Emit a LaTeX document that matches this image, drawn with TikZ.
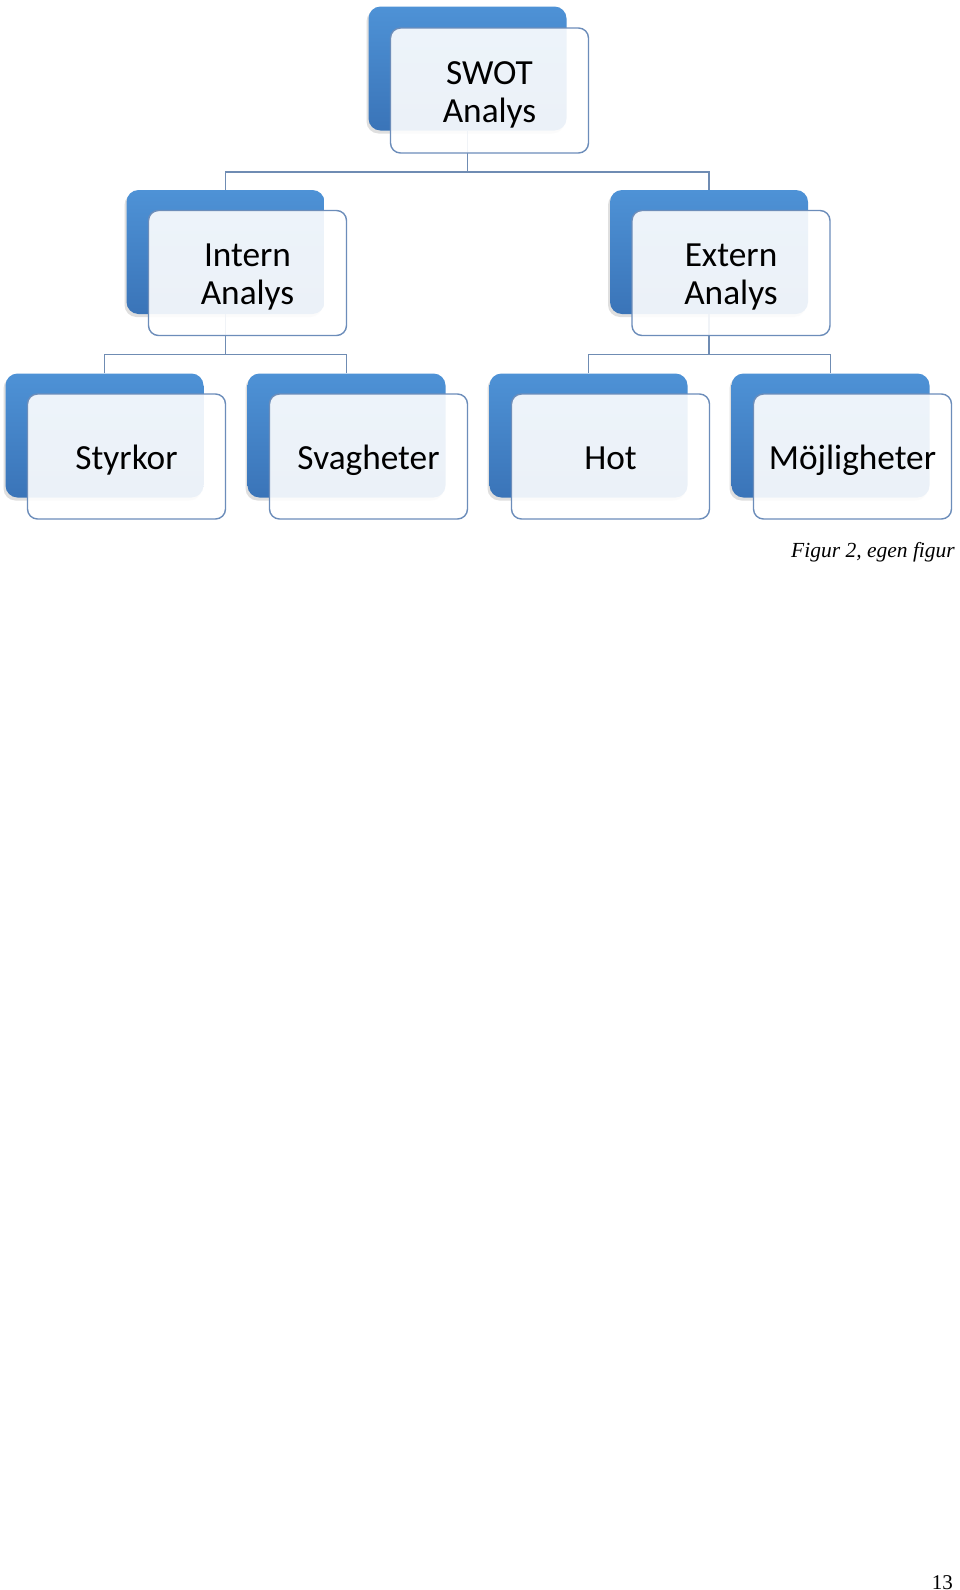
\documentclass[tikz,border=0pt]{standalone}
\usepackage{fontspec}
\setmainfont{Liberation Serif}
\newfontfamily\boxfont{Carlito}
\usetikzlibrary{shadows}
\definecolor{bluetop}{HTML}{4E92D6}
\definecolor{bluebot}{HTML}{3A74B8}
\definecolor{frameblue}{HTML}{6C8DBA}
\definecolor{linkblue}{HTML}{6F8CB3}
\tikzset{
  backbox/.style={rounded corners=12pt, minimum width=198pt, minimum height=124pt, inner sep=0pt,
    top color=bluetop, bottom color=bluebot, draw=none,
    drop shadow={shadow xshift=-2pt, shadow yshift=-3pt, opacity=0.25}},
  frontbox/.style={rounded corners=10pt, minimum width=198pt, minimum height=125pt, inner sep=0pt,
    draw=frameblue, line width=1.4pt, fill=white, fill opacity=0.9},
  boxtext/.style={inner sep=0pt, font=\boxfont\fontsize{35.3pt}{38pt}\selectfont, align=center, text=black},
  link/.style={draw=linkblue, line width=1.5pt}
}
\begin{document}
\begin{tikzpicture}[x=1pt,y=-1pt]
\useasboundingbox[fill=white] (0,0) rectangle (960,1590);
% back boxes
\node[backbox] (swotB) at (467.5,68.5) {};
\node[backbox] (internB) at (225.5,252) {};
\node[backbox] (externB) at (709,252) {};
\node[backbox] (styB) at (104.5,435.5) {};
\node[backbox] (svaB) at (346.5,435.5) {};
\node[backbox] (hotB) at (588.5,435.5) {};
\node[backbox] (mojB) at (830.5,435.5) {};
% connectors
\draw[link] (internB.north) -- ++(0,-18) -| (swotB.south);
\draw[link] (externB.north) -- ++(0,-18) -| (swotB.south);
\draw[link] (styB.north) -- ++(0,-19) -| (internB.south);
\draw[link] (svaB.north) -- ++(0,-19) -| (internB.south);
\draw[link] (hotB.north) -- ++(0,-19) -| (externB.south);
\draw[link] (mojB.north) -- ++(0,-19) -| (externB.south);
% front boxes
\node[frontbox] (swot) at (489.5,90.5) {};
\node[frontbox] (intern) at (247.5,273) {};
\node[frontbox] (extern) at (731,273) {};
\node[frontbox] (sty) at (126.5,456.5) {};
\node[frontbox] (sva) at (368.5,456.5) {};
\node[frontbox] (hot) at (610.5,456.5) {};
\node[frontbox] (moj) at (852.5,456.5) {};
% texts
\node[boxtext] (swotT) at ([yshift=-5pt]swot.center) {\strut SWOT\\\strut Analys};
\node[boxtext] (internT) at ([yshift=-5pt]intern.center) {\strut Intern\\\strut Analys};
\node[boxtext] (externT) at ([yshift=-5pt]extern.center) {\strut Extern\\\strut Analys};
\node[boxtext] (styT) at ([yshift=-5pt]sty.center) {\strut Styrkor};
\node[boxtext] (svaT) at ([yshift=-5pt]sva.center) {\strut Svagheter};
\node[boxtext] (hotT) at ([yshift=-5pt]hot.center) {\strut Hot};
\node[boxtext] (mojT) at ([yshift=-5pt]moj.center) {\strut Möjligheter};
% caption and page number
\node[anchor=base east, inner sep=0pt, font=\fontsize{21.5pt}{25pt}\selectfont\itshape] (cap) at (955,557) {Figur 2, egen figur};
\node[anchor=base east, inner sep=0pt, font=\fontsize{21pt}{25pt}\selectfont] (page) at (953,1589) {13};
\end{tikzpicture}
\end{document}
